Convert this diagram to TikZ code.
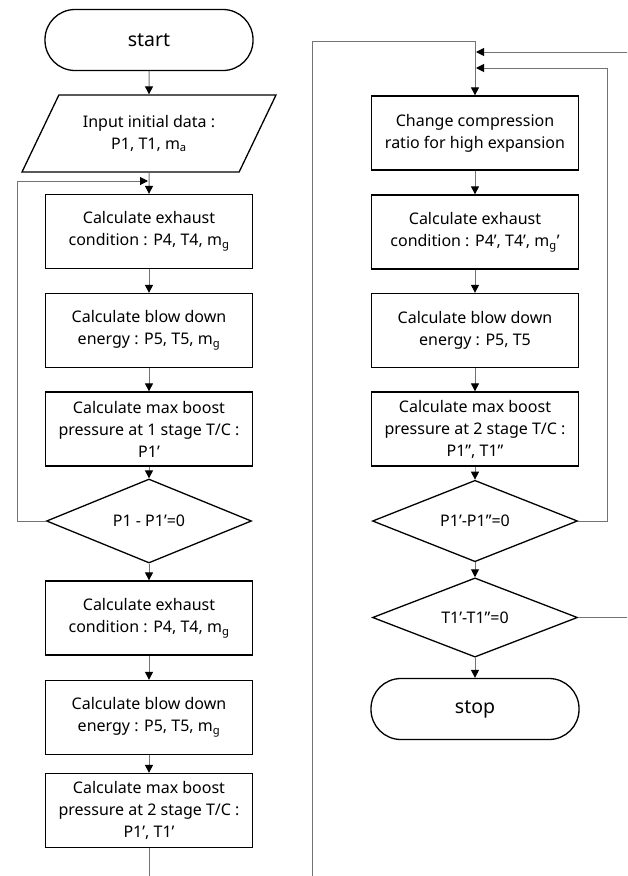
\documentclass[tikz,border=0pt]{standalone}
\usepackage{fontspec}
\setmainfont{Noto Sans}
\usetikzlibrary{arrows.meta,shapes.geometric}
\tikzset{
        flow line/.style={draw=black!55, line width=1pt},
        flow arrow/.style={flow line, -{Triangle[color=black,length=8pt,width=8pt]}}
    }

\begin{document}
\begin{tikzpicture}[
  x=1pt, y=-1pt,
  font=\fontsize{16}{22}\selectfont,
  base/.style={draw=black, line width=1.3pt, align=center, inner sep=0pt},
  procbox/.style={base, rectangle, minimum width=207pt, minimum height=74pt},
  termbox/.style={base, rectangle, rounded corners=30pt, minimum width=208pt, minimum height=61pt,
    font=\fontsize{19.5}{22}\selectfont},
  iobox/.style={base, trapezium, trapezium left angle=45, trapezium right angle=135,
    trapezium stretches body, minimum width=254pt, minimum height=77pt},
  decision/.style={base, diamond, minimum width=205pt, minimum height=74pt},
]
\useasboundingbox (0,0) rectangle (627,876);
\clip (0,0) rectangle (627,876);
% left column
\node[termbox]  (start) at (149,40)    {start};
\node[iobox]    (input) at (149,133.5) {Input initial data :\\P1, T1, m\textsubscript{a}};
\node[procbox]  (exh1)  at (149,231.5) {Calculate exhaust\\condition : P4, T4, m\textsubscript{g}};
\node[procbox]  (blow1) at (149,330.5) {Calculate blow down\\energy : P5, T5, m\textsubscript{g}};
\node[procbox]  (max1)  at (149,429)   {Calculate max boost\\pressure at 1 stage T/C :\\P1’};
\node[decision] (chk1)  at (149,521)   {P1 - P1’=0};
\node[procbox]  (exh2)  at (149,618)   {Calculate exhaust\\condition : P4, T4, m\textsubscript{g}};
\node[procbox]  (blow2) at (149,717.5) {Calculate blow down\\energy : P5, T5, m\textsubscript{g}};
\node[procbox]  (max2)  at (149,810.5) {Calculate max boost\\pressure at 2 stage T/C :\\P1’, T1’};
% right column
\node[procbox]  (ratio) at (475,133)   {Change compression\\ratio for high expansion};
\node[procbox]  (exh3)  at (475,232)   {Calculate exhaust\\condition : P4’, T4’, m\textsubscript{g}’};
\node[procbox]  (blow3) at (475,330.5) {Calculate blow down\\energy : P5, T5};
\node[procbox]  (max3)  at (475,429)   {Calculate max boost\\pressure at 2 stage T/C :\\P1”, T1”};
\node[decision] (chk2)  at (475,521)   {P1’-P1”=0};
\node[decision, minimum height=71pt] (chk3) at (475,617.5) {T1’-T1”=0};
\node[termbox]  (stop)  at (475,709)   {stop};

\coordinate (loopin) at (149,181);
\coordinate (topin)  at (475,41);
\coordinate (in2)    at (475,52);
\coordinate (in3)    at (475,68);

\foreach \a/\b in {start/input, input/exh1, exh1/blow1, blow1/max1, max1/chk1,
                   chk1/exh2, exh2/blow2, blow2/max2,
                   ratio/exh3, exh3/blow3, blow3/max3, max3/chk2, chk2/chk3, chk3/stop}
  \draw[flow arrow] (\a.south) -- (\b.north);

% feedback loops
\draw[flow arrow] (chk1.west) -- (17,521) -- (17,181) -- ([xshift=-1pt]loopin);
\draw[flow arrow] (max2.south) -- (149,890) -- (312,890) -- (312,41) -- (topin) -- (ratio.north);
\draw[flow arrow] (chk2.east) -- (607,521) -- (607,68) -- ([xshift=1pt]in3);
\draw[flow arrow] (chk3.east) -- (640,617.5) -- (640,52) -- ([xshift=1pt]in2);
\end{tikzpicture}
\end{document}
